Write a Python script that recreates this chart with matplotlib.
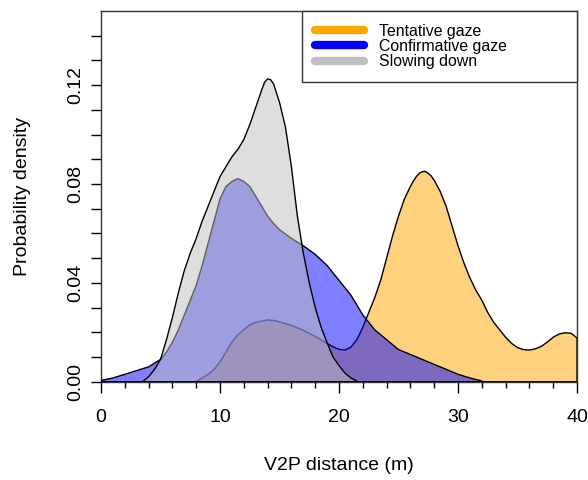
import numpy as np
import matplotlib
matplotlib.use("Agg")
import matplotlib.pyplot as plt
from matplotlib.colors import to_rgba
from matplotlib.ticker import MultipleLocator

plt.rcParams['font.family'] = ['Liberation Sans', 'DejaVu Sans']

# curvas de densidad (x en m, y densidad)
tent_x = [8.0, 8.5, 9.0, 9.5, 10.0, 10.5, 11.0, 11.5, 12.0, 12.5, 13.0, 13.5, 14.0, 14.5, 15.0,
          16.0, 17.0, 18.0, 19.0, 19.5, 20.0, 20.5, 21.0, 21.5, 22.0, 22.5, 23.0, 23.5, 24.0, 24.5,
          25.0, 25.5, 26.0, 26.25, 26.5, 26.75, 27.0, 27.25, 27.5, 27.75, 28.0, 28.5, 29.0, 29.5,
          30.0, 30.5, 31.0, 31.5, 32.0, 32.5, 33.0, 33.5, 34.0, 34.5, 35.0, 35.5, 36.0, 36.5,
          37.0, 37.5, 38.0, 38.5, 39.0, 39.5, 40.0]
tent_y = [0.000, 0.0015, 0.003, 0.005, 0.008, 0.012, 0.016, 0.019, 0.021, 0.023, 0.024, 0.0245,
          0.025, 0.0248, 0.0242, 0.0228, 0.0208, 0.0183, 0.0155, 0.0141, 0.0131, 0.0128, 0.014,
          0.017, 0.022, 0.028, 0.034, 0.041, 0.050, 0.059, 0.067, 0.074, 0.079, 0.0812, 0.083,
          0.0843, 0.085, 0.0851, 0.0843, 0.0832, 0.0815, 0.077, 0.071, 0.063, 0.055, 0.048, 0.042,
          0.037, 0.033, 0.028, 0.024, 0.021, 0.018, 0.0155, 0.0138, 0.013, 0.0128, 0.0133, 0.0143,
          0.016, 0.018, 0.0193, 0.0198, 0.0196, 0.0177]

conf_x = [0.0, 1.0, 2.0, 3.0, 4.0, 5.0, 5.5, 6.0, 6.5, 7.0, 7.5, 8.0, 8.5, 9.0, 9.5, 10.0, 10.5,
          11.0, 11.5, 12.0, 12.5, 13.0, 13.5, 14.0, 14.5, 15.0, 16.0, 17.0, 18.0, 19.0, 20.0,
          21.0, 22.0, 23.0, 24.0, 25.0, 26.0, 27.0, 28.0, 29.0, 30.0, 31.0, 32.0]
conf_y = [0.0005, 0.0015, 0.003, 0.0045, 0.006, 0.009, 0.012, 0.016, 0.021, 0.027, 0.033, 0.039,
          0.047, 0.056, 0.065, 0.074, 0.079, 0.081, 0.0822, 0.081, 0.079, 0.075, 0.071, 0.067,
          0.064, 0.0615, 0.058, 0.055, 0.0515, 0.047, 0.041, 0.035, 0.027, 0.021, 0.017, 0.013,
          0.011, 0.009, 0.007, 0.005, 0.003, 0.0015, 0.0003]

slow_x = [3.5, 4.0, 4.5, 5.0, 5.5, 6.0, 6.5, 7.0, 7.5, 8.0, 8.5, 9.0, 9.5, 10.0, 10.5, 11.0,
          11.5, 12.0, 12.5, 13.0, 13.5, 13.75, 14.0, 14.25, 14.5, 15.0, 15.5, 16.0, 16.5, 17.0,
          17.5, 18.0, 18.5, 19.0, 19.5, 20.0, 20.5, 21.0, 21.5]
slow_y = [0.000, 0.002, 0.005, 0.009, 0.017, 0.026, 0.036, 0.045, 0.052, 0.058, 0.065, 0.071,
          0.077, 0.083, 0.087, 0.091, 0.094, 0.098, 0.104, 0.111, 0.118, 0.1212, 0.1225, 0.1222,
          0.1205, 0.113, 0.103, 0.087, 0.067, 0.052, 0.040, 0.030, 0.022, 0.0157, 0.010, 0.0065,
          0.0035, 0.0015, 0.0003]

series = [("Tentative gaze", tent_x, tent_y, "#FFA500"),
          ("Confirmative gaze", conf_x, conf_y, "#0000FF"),
          ("Slowing down", slow_x, slow_y, "#BEBEBE")]

fig = plt.figure(figsize=(5.88, 4.8), dpi=100)
ax = fig.add_axes([0.1718, 0.2048, 0.8095, 0.7723])

for i, (nombre, xs, ys, col) in enumerate(series):
    xs = np.r_[xs[0], xs, xs[-1]]
    ys = np.r_[0, ys, 0]
    ax.fill(xs, ys, facecolor=to_rgba(col, 0.5), edgecolor="black", linewidth=1, zorder=2 + i)
    ax.plot([], [], color=col, linewidth=6, solid_capstyle="round", label=nombre)

ax.set_xlim(0, 40)
ax.set_ylim(0, 0.15)
ax.set_xticks([0, 10, 20, 30, 40])
ax.xaxis.set_minor_locator(MultipleLocator(2))
ax.set_yticks([0, 0.04, 0.08, 0.12])
ax.set_yticklabels(["0.00", "0.04", "0.08", "0.12"])
ax.set_yticks(np.arange(0.01, 0.145, 0.01), minor=True)

ax.tick_params(axis="x", which="major", length=8, width=1, pad=12, labelsize=14)
ax.tick_params(axis="x", which="minor", length=4.3, width=1)
ax.tick_params(axis="y", which="both", length=7, width=1, pad=5, labelsize=14, labelrotation=90)
plt.setp(ax.get_yticklabels(), va="center")

for s in ax.spines.values():
    s.set_linewidth(1)
    s.set_color("#333333")

ax.set_xlabel("V2P distance (m)", fontsize=14, labelpad=22)
ax.set_ylabel("Probability density", fontsize=14, labelpad=26)

leg = ax.legend(loc="upper right", bbox_to_anchor=(0.4223, 0, 0.5777, 1), mode="expand",
                borderaxespad=0, fontsize=11.4, handlelength=3.1, handletextpad=0.95,
                labelspacing=0.02, borderpad=0.8, fancybox=False, framealpha=1,
                edgecolor="#333333")
leg.get_frame().set_linewidth(1)
leg.set_zorder(10)

plt.savefig("out.png", dpi=100)
